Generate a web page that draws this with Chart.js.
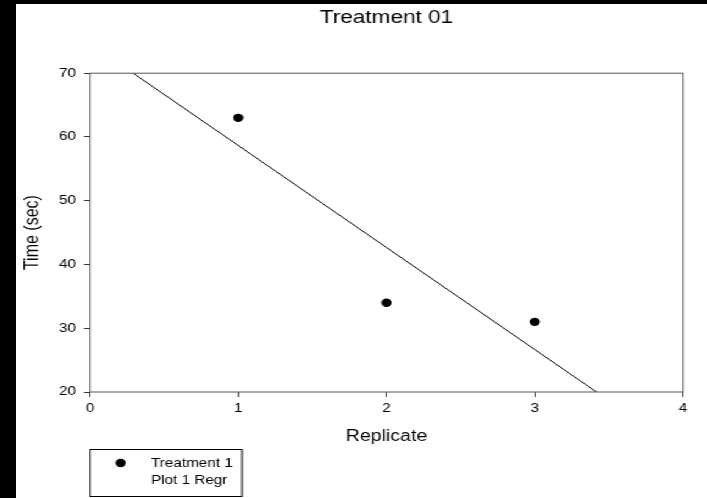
<!DOCTYPE html>
<html>
<head>
<meta charset="utf-8">
<script src="https://cdn.jsdelivr.net/npm/chart.js@4/dist/chart.umd.min.js"></script>
<style>
  html, body { margin: 0; padding: 0; background: #000; width: 707px; height: 498px; overflow: hidden; }
  /* the source picture is stretched sideways, so the chart is drawn narrow and scaled */
  #wrap { position: absolute; left: 16px; top: 4px; width: 566px; height: 494px;
          background: #fff; transform: scaleX(1.22); transform-origin: 0 0; }
</style>
</head>
<body>
<div id="wrap"><canvas id="chart"></canvas></div>
<script>
const replicates = [1, 2, 3];
const times = [63, 34, 31];
const xTicks = [0, 1, 2, 3, 4];
const yTicks = [20, 30, 40, 50, 60, 70];
const seriesName = 'Treatment 1';
const regrName = 'Plot 1 Regr';

const FONT = '"Liberation Sans", Arial, sans-serif';

// least squares fit of the points, drawn across the whole x range
function regression(xs, ys) {
  const n = xs.length;
  const mx = xs.reduce((a, b) => a + b, 0) / n;
  const my = ys.reduce((a, b) => a + b, 0) / n;
  let sxy = 0, sxx = 0;
  xs.forEach((x, i) => { sxy += (x - mx) * (ys[i] - my); sxx += (x - mx) * (x - mx); });
  const b = sxy / sxx;
  const a = my - b * mx;
  const x0 = xTicks[0], x1 = xTicks[xTicks.length - 1];
  return [{ x: x0, y: a + b * x0 }, { x: x1, y: a + b * x1 }];
}

const frame = {
  id: 'frame',
  afterDatasetsDraw(chart) {
    const { ctx, chartArea: c } = chart;
    ctx.save();
    ctx.strokeStyle = '#555';
    ctx.lineWidth = 1;
    ctx.strokeRect(c.left, c.top, c.right - c.left, c.bottom - c.top);
    ctx.restore();
  },
  afterDraw(chart) {
    const { ctx } = chart;
    ctx.save();
    ctx.strokeStyle = '#000';
    ctx.lineWidth = 1;
    ctx.strokeRect(60.7, 445.5, 124.5, 47);
    ctx.font = '12.5px ' + FONT;
    ctx.fillStyle = '#000';
    ctx.textBaseline = 'middle';
    const ds = chart.data.datasets;
    ctx.beginPath();
    ctx.arc(85.8, 459, ds[0].pointRadius, 0, Math.PI * 2);
    ctx.fill();
    ctx.fillText(ds[0].label, 110.7, 459.5);
    ctx.fillText(ds[1].label, 110.7, 476.5);
    ctx.restore();
  }
};

new Chart(document.getElementById('chart'), {
  type: 'scatter',
  data: {
    datasets: [{
      label: seriesName,
      data: replicates.map((x, i) => ({ x: x, y: times[i] })),
      pointRadius: 4.2,
      pointBackgroundColor: '#000',
      pointBorderColor: '#000',
      pointBorderWidth: 0
    }, {
      label: regrName,
      data: regression(replicates, times),
      showLine: true,
      pointRadius: 0,
      borderColor: '#000',
      borderWidth: 1
    }]
  },
  options: {
    responsive: true,
    maintainAspectRatio: false,
    animation: false,
    layout: { padding: { left: 0, right: 19.3, top: 0, bottom: 46 } },
    plugins: {
      legend: { display: false },
      tooltip: { enabled: false },
      title: {
        display: true,
        fullSize: false,
        text: 'Treatment 01',
        color: '#000',
        font: { family: FONT, size: 18.5, weight: 'normal' },
        padding: { top: 3, bottom: 44 }
      }
    },
    scales: {
      x: {
        type: 'linear',
        min: xTicks[0],
        max: xTicks[xTicks.length - 1],
        afterBuildTicks: (s) => { s.ticks = xTicks.map(v => ({ value: v })); },
        afterFit: (s) => { s.height = 60; },
        border: { display: false },
        grid: { drawOnChartArea: false, tickLength: 5, color: '#333' },
        ticks: { color: '#000', padding: 4.5, font: { family: FONT, size: 12.5 } },
        title: {
          display: true, text: 'Replicate', color: '#000',
          font: { family: FONT, size: 16 }, padding: { top: 0, bottom: 5.4 }
        }
      },
      y: {
        type: 'linear',
        min: yTicks[0],
        max: yTicks[yTicks.length - 1],
        afterBuildTicks: (s) => { s.ticks = yTicks.map(v => ({ value: v })); },
        afterFit: (s) => { s.width = 60.66; },
        border: { display: false },
        grid: { drawOnChartArea: false, tickLength: 5, color: '#333' },
        ticks: { color: '#000', padding: 6.5, font: { family: FONT, size: 12.5 } },
        title: {
          display: true, text: 'Time (sec)', color: '#000',
          font: { family: FONT, size: 16 }, padding: { top: 3.9, bottom: 0 }
        }
      }
    }
  },
  plugins: [frame]
});
</script>
</body>
</html>
